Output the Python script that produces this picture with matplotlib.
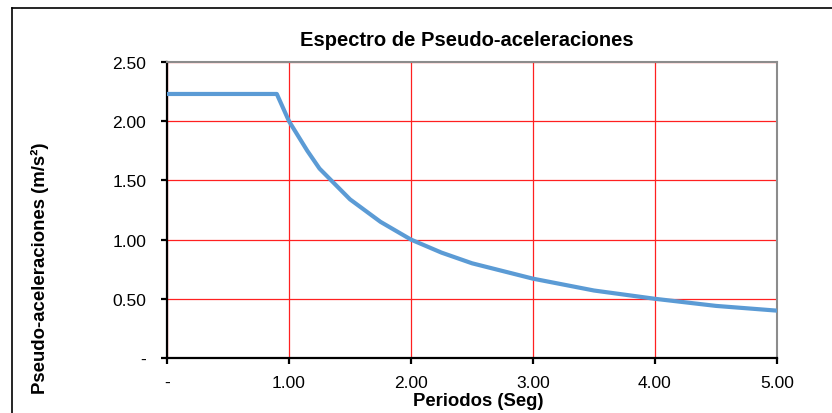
import matplotlib.pyplot as plt
from matplotlib.lines import Line2D
from matplotlib.ticker import FuncFormatter

plt.rcParams['font.family'] = ['Liberation Sans', 'DejaVu Sans']

# Periodos (s) y pseudo-aceleraciones (m/s2)
periodos = [0.0, 0.9, 1.0, 1.15, 1.25, 1.5, 1.75, 2.0, 2.25, 2.5, 3.0, 3.5, 4.0, 4.5, 5.0]
pseudo_acel = [2.23, 2.23, 2.00, 1.75, 1.60, 1.34, 1.15, 1.00, 0.89, 0.80, 0.67, 0.57, 0.50, 0.44, 0.40]
x_ticks = [0, 1, 2, 3, 4, 5]
y_ticks = [0, 0.5, 1.0, 1.5, 2.0, 2.5]


def fmt(v, pos):
    return '-' if abs(v) < 1e-9 else f'{v:.2f}'


W, H = 832, 414
fig = plt.figure(figsize=(W / 100, H / 100), dpi=100)
ax = fig.add_axes([167 / W, 1 - 359 / H, (777 - 167) / W, (359 - 63) / H])

ax.plot(periodos, pseudo_acel, color='#5B9BD5', linewidth=3, solid_joinstyle='round', zorder=3)

ax.set_xlim(0, 5)
ax.set_ylim(0, 2.5)
ax.set_xticks(x_ticks)
ax.set_yticks(y_ticks)
ax.xaxis.set_major_formatter(FuncFormatter(fmt))
ax.yaxis.set_major_formatter(FuncFormatter(fmt))
ax.grid(True, color='#FF2020', linewidth=0.9)
ax.set_axisbelow(True)

for side in ['left', 'bottom']:
    ax.spines[side].set_color('black')
    ax.spines[side].set_linewidth(1.6)
for side in ['top', 'right']:
    ax.spines[side].set_color('#8C8C8C')
    ax.spines[side].set_linewidth(1.5)
ax.tick_params(direction='out', length=4, width=1.6, labelsize=12.5)
ax.tick_params(axis='x', pad=8)
ax.tick_params(axis='y', pad=11)

# textos colocados como en el original
fig.text(467 / W, 1 - 41 / H, 'Espectro de Pseudo-aceleraciones', fontsize=14.5,
         fontweight='bold', ha='center', va='center')
fig.text(478 / W, 1 - 402 / H, 'Periodos (Seg)', fontsize=13.3,
         fontweight='bold', ha='center', va='center')
fig.text(40 / W, 1 - 268 / H, 'Pseudo-aceleraciones (m/s²)', fontsize=13.4,
         fontweight='bold', ha='center', va='center', rotation=90)

# marco del grafico (solo borde superior e izquierdo visibles)
fig.add_artist(Line2D([12 / W, 12 / W], [0, 1 - 9 / H], transform=fig.transFigure, color='black', linewidth=1.2))
fig.add_artist(Line2D([12 / W, 1], [1 - 9 / H, 1 - 9 / H], transform=fig.transFigure, color='black', linewidth=1.2))

fig.savefig('out.png', dpi=100)
